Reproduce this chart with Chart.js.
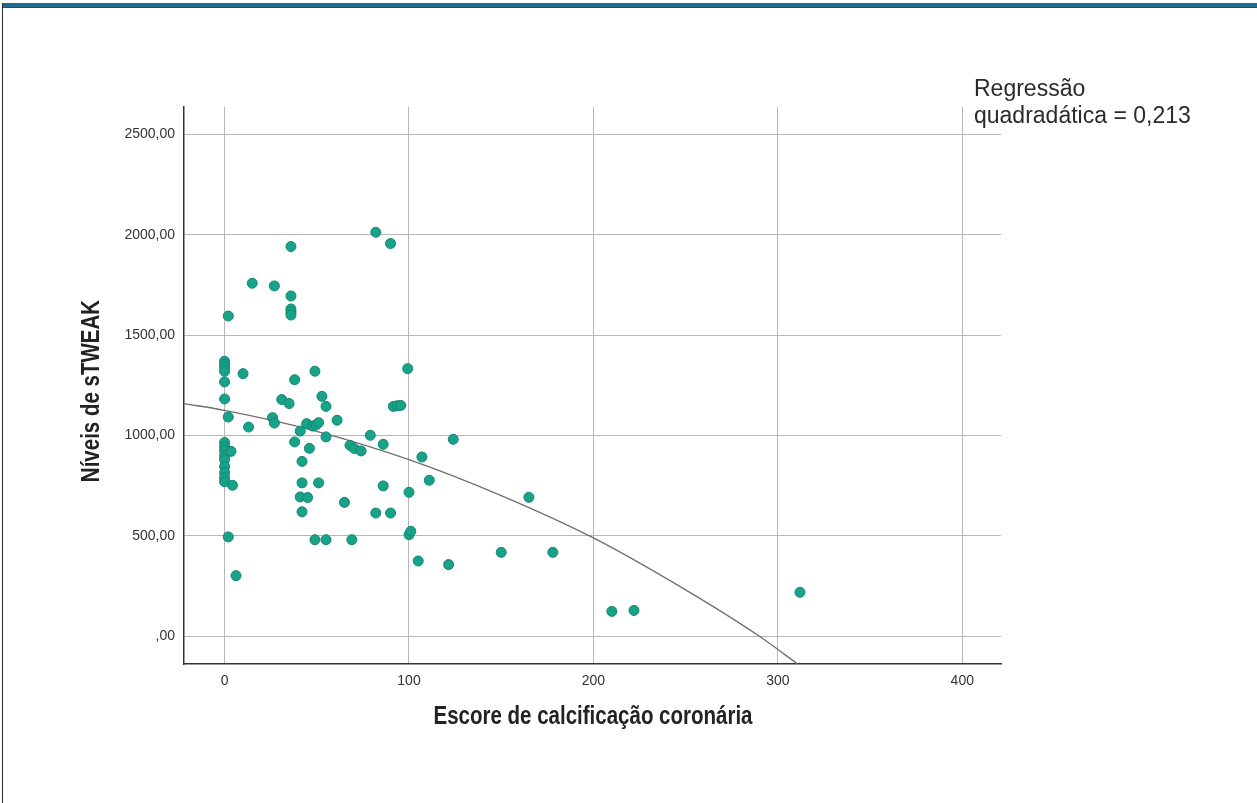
<!DOCTYPE html>
<html lang="pt">
<head>
<meta charset="utf-8">
<title>Níveis de sTWEAK × Escore de calcificação coronária</title>
<script src="https://cdn.jsdelivr.net/npm/chart.js@4/dist/chart.umd.min.js"></script>
<style>
  html, body { margin: 0; padding: 0; background: #ffffff; }
  #wrap { position: relative; width: 1257px; height: 803px; overflow: hidden; }
  #chart { position: absolute; left: 0; top: 0; }
  #topbar { position: absolute; left: 2px; top: 3px; right: 0; height: 4px; background: #1d6c92; border-bottom: 1px solid #3b4a52; }
  #leftline { position: absolute; left: 2px; top: 3px; bottom: 0; width: 1px; background: #2b2b2b; }
</style>
</head>
<body>
<div id="wrap">
  <canvas id="chart" width="1257" height="803"></canvas>
  <div id="topbar"></div>
  <div id="leftline"></div>
</div>
<script>
// Escore de calcificação coronária (x) and sTWEAK level (y) per subject
const scoreCAC = [
  0, 0, 0, 0, 0, 0, 0, 0, 0, 0, 0, 0, 0, 0, 0,
  2, 2, 2, 3.5, 4.3, 6.2, 10, 13, 15, 26, 27, 27, 31, 35,
  36, 36, 36, 36, 36, 38, 38, 41, 42, 42, 41, 45, 42,
  44.5, 47.7, 49.5, 51, 46, 49, 49, 51, 52.8, 55, 55, 55,
  61, 65, 68, 70.3, 69, 74, 79, 82, 82, 86, 86, 90, 90,
  91.5, 93.5, 95.5, 99.3, 100, 100, 101, 105, 107, 111,
  121.5, 124, 150, 165, 178, 210, 222, 312
];
const sTWEAK = [
  1370, 1355, 1340, 1320, 1267, 1182, 965, 945, 925, 900, 880, 845, 815, 790, 770,
  1595, 1092, 495, 921, 752, 302, 1308, 1042, 1758, 1089, 1745, 1062, 1179, 1159,
  1941, 1695, 1630, 1615, 1600, 1278, 968, 1022, 871, 764, 694, 691, 620,
  1059, 1047, 1052, 1064, 936, 1320, 481, 764, 1195, 1145, 993, 481,
  1076, 667, 951, 935, 481, 923, 1001, 2012, 614, 956, 749, 1956, 614,
  1145, 1148, 1150, 1333, 717, 506, 523, 375, 893, 777,
  357, 981, 418, 692, 418, 124, 129, 219
];

// Quadratic regression curve, sampled along the score axis
const curveX = [-22, 0, 50, 100, 150, 200, 250, 290, 310.7];
const curveY = [1159, 1125, 1021, 880, 701, 490, 231, 0, -138];

// Axis ticks and their labels
const xTicks = [0, 100, 200, 300, 400];
const xTickLabels = ['0', '100', '200', '300', '400'];
const yTicks = [0, 500, 1000, 1500, 2000, 2500];
const yTickLabels = [',00', '500,00', '1000,00', '1500,00', '2000,00', '2500,00'];

const xTitle = 'Escore de calcificação coronária';
const yTitle = 'Níveis de sTWEAK';
const fitNote = ['Regressão', 'quadradática = 0,213'];

const pointData = scoreCAC.map((x, i) => ({ x: x, y: sTWEAK[i] }));
const curveData = curveX.map((x, i) => ({ x: x, y: curveY[i] }));

const plain = "'Liberation Sans', Arial, sans-serif";

// Axis titles in a condensed bold face, plus the fit note at the top right
const textPlugin = {
  id: 'chartTexts',
  afterDraw(chart) {
    const ctx = chart.ctx;
    const area = chart.chartArea;
    ctx.save();
    ctx.fillStyle = '#222222';
    ctx.font = "bold 25px " + plain;
    ctx.textAlign = 'center';
    ctx.textBaseline = 'middle';

    // x title, centred under the plot
    ctx.save();
    ctx.translate((area.left + area.right) / 2 + 0.5, 717);
    ctx.scale(0.82, 1);
    ctx.fillText(xTitle, 0, 0);
    ctx.restore();

    // y title, rotated along the left side
    ctx.save();
    ctx.translate(92, 391);
    ctx.rotate(-Math.PI / 2);
    ctx.scale(0.82, 1);
    ctx.fillText(yTitle, 0, 0);
    ctx.restore();

    ctx.font = "23px " + plain;
    ctx.fillStyle = '#2a2a2a';
    ctx.textAlign = 'left';
    ctx.textBaseline = 'alphabetic';
    fitNote.forEach((line, i) => ctx.fillText(line, 974, 96 + i * 27));
    ctx.restore();
  }
};

new Chart(document.getElementById('chart'), {
  type: 'scatter',
  data: {
    datasets: [
      {
        label: 'Regressão quadrática',
        type: 'line',
        data: curveData,
        borderColor: '#6f6f6f',
        borderWidth: 1.3,
        pointRadius: 0,
        fill: false,
        cubicInterpolationMode: 'monotone',
        order: 2
      },
      {
        label: 'sTWEAK',
        data: pointData,
        backgroundColor: '#18a28a',
        borderColor: '#13876f',
        borderWidth: 1,
        pointRadius: 5,
        order: 1
      }
    ]
  },
  options: {
    responsive: false,
    devicePixelRatio: 1,
    animation: false,
    layout: { padding: { top: 107, right: 256, left: 0, bottom: 0 } },
    plugins: {
      legend: { display: false },
      tooltip: { enabled: false }
    },
    scales: {
      x: {
        type: 'linear',
        min: -22,
        max: 421,
        afterFit(scale) { scale.height = 139; },
        afterBuildTicks(scale) { scale.ticks = xTicks.map(v => ({ value: v })); },
        ticks: {
          padding: 9,
          color: '#333333',
          font: { family: plain, size: 14 },
          maxRotation: 0,
          autoSkip: false,
          callback: (v) => xTickLabels[xTicks.indexOf(v)]
        },
        grid: { color: '#b7b7b7', lineWidth: 1, drawTicks: false },
        border: { display: true, color: '#333333', width: 1.5 },
        title: { display: false }
      },
      y: {
        type: 'linear',
        min: -138,
        max: 2636,
        afterFit(scale) { scale.width = 184; },
        afterBuildTicks(scale) { scale.ticks = yTicks.map(v => ({ value: v })); },
        ticks: {
          padding: 9,
          color: '#333333',
          font: { family: plain, size: 14 },
          autoSkip: false,
          callback: (v) => yTickLabels[yTicks.indexOf(v)]
        },
        grid: { color: '#b7b7b7', lineWidth: 1, drawTicks: false },
        border: { display: true, color: '#333333', width: 1.5 },
        title: { display: false }
      }
    }
  },
  plugins: [textPlugin]
});
</script>
</body>
</html>
